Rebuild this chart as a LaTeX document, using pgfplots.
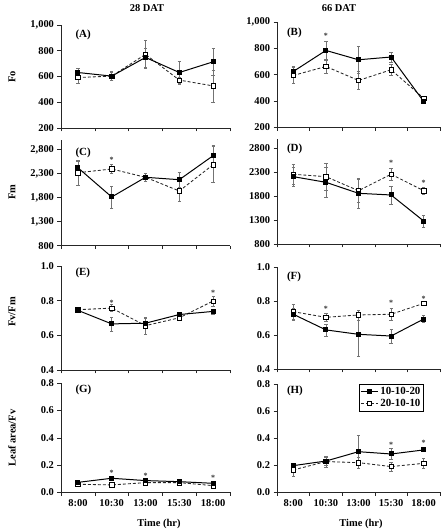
\documentclass[border=0pt]{standalone}
\usepackage{pgfplots}
\pgfplotsset{compat=1.18}
\usepackage{fontspec}
\setmainfont{Liberation Serif}

\tikzset{plab/.style={anchor=west, font=\fontsize{11}{12}\selectfont\bfseries}}
\pgfplotsset{
  panel/.style={
    scale only axis,
    axis x line*=bottom, axis y line*=left,
    axis line style={-, black!85, line width=0.6pt},
    xmin=0.5, xmax=5.5,
    xtick={0.5,1.5,2.5,3.5,4.5,5.5},
    xticklabels={},
    x tick label as interval,
    tick align=outside,
    major tick length=3.5bp,
    tick style={black!85, line width=0.6pt},
    tick label style={font=\fontsize{10.5}{12}\selectfont\bfseries},
    /pgf/number format/assume math mode=true,
    clip=false,
  },
  leftcol/.style={panel, width=169bp},
  rightcol/.style={panel, width=163bp},
  sA/.style={black, line width=1pt, mark=square*, mark size=2bp,
    mark options={solid, fill=black, draw=black},
    error bars/.cd, y dir=both, y explicit,
    error bar style={black!55, line width=0.45pt, solid},
    error mark options={black!55, line width=0.45pt, mark size=1.6bp, rotate=90}},
  sB/.style={black!85, line width=0.85pt, dash pattern=on 3bp off 2bp, mark=square*, mark size=2.2bp,
    mark options={solid, fill=white, draw=black, line width=0.6pt},
    error bars/.cd, y dir=both, y explicit,
    error bar style={black!55, line width=0.45pt, solid},
    error mark options={black!55, line width=0.45pt, mark size=1.6bp, rotate=90}},
  star/.style={draw=none, mark=none, nodes near coords={*},
    every node near coord/.append style={anchor=center, inner sep=0pt, font=\fontsize{8}{8}\selectfont\bfseries, black!80}},
}

\begin{document}
\begin{tikzpicture}
\path[use as bounding box] (0,0) rectangle (442bp,529bp);

% titles
\node[font=\fontsize{10.5}{12}\selectfont\bfseries] at (147bp,521bp) {28 DAT};
\node[font=\fontsize{10.5}{12}\selectfont\bfseries] at (339bp,521bp) {66 DAT};
\node[font=\fontsize{10.5}{12}\selectfont\bfseries] at (159bp,5.5bp) {Time (hr)};
\node[font=\fontsize{10.5}{12}\selectfont\bfseries] at (361bp,5.5bp) {Time (hr)};
% y labels
\node[rotate=90, font=\fontsize{10.5}{12}\selectfont\bfseries] at (12bp,452bp) {Fo};
\node[rotate=90, font=\fontsize{10.5}{12}\selectfont\bfseries] at (12bp,337bp) {Fm};
\node[rotate=90, font=\fontsize{10.5}{12}\selectfont\bfseries] at (12bp,217bp) {Fv/Fm};
\node[rotate=90, font=\fontsize{10.5}{12}\selectfont\bfseries] at (12bp,91bp) {Leaf area/Fv};

% (A)
\begin{axis}[leftcol, at={(61bp,401bp)}, anchor=south west, height=103bp,
  ymin=200, ymax=1000, ytick={200,400,600,800,1000},
  /pgf/number format/1000 sep={,}]
\addplot+[sB] coordinates {(1,592)+-(0,46) (2,603)+-(0,35) (3,772)+-(0,106) (4,572)+-(0,25) (5,527)+-(0,125)};
\addplot+[sA] coordinates {(1,631)+-(0,30) (2,603)+-(0,30) (3,748)+-(0,75) (4,631)+-(0,90) (5,714)+-(0,105)};
\node[plab] at (rel axis cs:0.065,0.9) {(A)};
\end{axis}

% (B)
\begin{axis}[rightcol, at={(277bp,401.7bp)}, anchor=south west, height=105.3bp,
  ymin=200, ymax=1000, ytick={200,400,600,800,1000},
  /pgf/number format/1000 sep={,}]
\addplot+[sB] coordinates {(1,594)+-(0,60) (2,662)+-(0,50) (3,556)+-(0,70) (4,637)+-(0,40) (5,421)+-(0,15)};
\addplot+[sA] coordinates {(1,624)+-(0,40) (2,784)+-(0,70) (3,713)+-(0,100) (4,734)+-(0,40) (5,396)+-(0,15)};
\addplot[star] coordinates {(2,894)};
\node[plab] at (rel axis cs:0.04,0.9) {(B)};
\end{axis}

% (C)
\begin{axis}[leftcol, at={(61bp,283.3bp)}, anchor=south west, height=105.6bp,
  ymin=800, ymax=3000, ytick={800,1300,1800,2300,2800},
  /pgf/number format/1000 sep={,}]
\addplot+[sB] coordinates {(1,2320)+-(0,260) (2,2398)+-(0,90) (3,2225)+-(0,90) (4,1940)+-(0,215) (5,2487)+-(0,375)};
\addplot+[sA] coordinates {(1,2425)+-(0,130) (2,1815)+-(0,230) (3,2225)+-(0,90) (4,2175)+-(0,160) (5,2675)+-(0,210)};
\addplot[star] coordinates {(2,2590)};
\node[plab] at (rel axis cs:0.065,0.88) {(C)};
\end{axis}

% (D)
\begin{axis}[rightcol, at={(277bp,285bp)}, anchor=south west, height=105.3bp,
  ymin=800, ymax=3000, ytick={800,1300,1800,2300,2800},
  /pgf/number format/1000 sep={}]
\addplot+[sB] coordinates {(1,2257)+-(0,200) (2,2207)+-(0,280) (3,1914)+-(0,245) (4,2257)+-(0,125) (5,1914)+-(0,70)};
\addplot+[sA] coordinates {(1,2207)+-(0,200) (2,2089)+-(0,310) (3,1859)+-(0,310) (4,1824)+-(0,190) (5,1280)+-(0,120)};
\addplot[star] coordinates {(4,2493) (5,2082)};
\node[plab] at (rel axis cs:0.04,0.9) {(D)};
\end{axis}

% (E)
\begin{axis}[leftcol, at={(61bp,159bp)}, anchor=south west, height=104bp,
  ymin=0.4, ymax=1.0, ytick={0.4,0.6,0.8,1.0},
  yticklabel style={/pgf/number format/.cd, fixed, fixed zerofill, precision=1}]
\addplot+[sB] coordinates {(1,0.748)+-(0,0.01) (2,0.757)+-(0,0.02) (3,0.656)+-(0,0.05) (4,0.701)+-(0,0.015) (5,0.798)+-(0,0.03)};
\addplot+[sA] coordinates {(1,0.744)+-(0,0.01) (2,0.666)+-(0,0.04) (3,0.670)+-(0,0.03) (4,0.720)+-(0,0.01) (5,0.738)+-(0,0.015)};
\addplot[star] coordinates {(2,0.79) (5,0.845)};
\node[plab] at (rel axis cs:0.065,0.93) {(E)};
\end{axis}

% (F)
\begin{axis}[rightcol, at={(277bp,160bp)}, anchor=south west, height=102bp,
  ymin=0.4, ymax=1.0, ytick={0.4,0.6,0.8,1.0},
  yticklabel style={/pgf/number format/.cd, fixed, fixed zerofill, precision=1}]
\addplot+[sB] coordinates {(1,0.737)+-(0,0.045) (2,0.704)+-(0,0.025) (3,0.718)+-(0,0.03) (4,0.722)+-(0,0.035) (5,0.786)+-(0,0.01)};
\addplot+[sA] coordinates {(1,0.722)+-(0,0.035) (2,0.630)+-(0,0.035) (3,0.604)+-(0,0.13) (4,0.594)+-(0,0.04) (5,0.694)+-(0,0.02)};
\addplot[star] coordinates {(2,0.753) (4,0.79) (5,0.812)};
\node[plab] at (rel axis cs:0.04,0.9) {(F)};
\end{axis}

% (G)
\begin{axis}[leftcol, at={(61bp,36.7bp)}, anchor=south west, height=109bp,
  ymin=0, ymax=0.8, ytick={0,0.2,0.4,0.6,0.8},
  yticklabel style={/pgf/number format/.cd, fixed, fixed zerofill, precision=1},
  xticklabels={8:00,10:30,13:00,15:30,18:00}]
\addplot+[sB] coordinates {(1,0.059)+-(0,0.005) (2,0.054)+-(0,0.005) (3,0.071)+-(0,0.005) (4,0.071)+-(0,0.005) (5,0.049)+-(0,0.005)};
\addplot+[sA] coordinates {(1,0.073)+-(0,0.005) (2,0.103)+-(0,0.01) (3,0.086)+-(0,0.005) (4,0.078)+-(0,0.005) (5,0.066)+-(0,0.005)};
\addplot[star] coordinates {(2,0.144) (3,0.12) (5,0.103)};
\node[plab] at (rel axis cs:0.065,0.94) {(G)};
\end{axis}

% (H)
\begin{axis}[rightcol, at={(277bp,36.7bp)}, anchor=south west, height=108.3bp,
  ymin=0, ymax=0.8, ytick={0,0.2,0.4,0.6,0.8},
  yticklabel style={/pgf/number format/.cd, fixed, fixed zerofill, precision=1},
  xticklabels={8:00,10:30,13:00,15:30,18:00},
  legend style={at={(0.90,1.0)}, anchor=north east, draw=black, line width=0.5pt,
    font=\fontsize{11}{12}\selectfont\bfseries, inner sep=1pt, row sep=-1pt,
    cells={anchor=west}},
  reverse legend]
\addplot+[sB] coordinates {(1,0.165)+-(0,0.045) (2,0.227)+-(0,0.04) (3,0.219)+-(0,0.04) (4,0.19)+-(0,0.035) (5,0.214)+-(0,0.035)};
\addlegendentry{20-10-10}
\addplot+[sA] coordinates {(1,0.197)+-(0,0.015) (2,0.231)+-(0,0.03) (3,0.300)+-(0,0.12) (4,0.283)+-(0,0.04) (5,0.313)+-(0,0.01)};
\addlegendentry{10-10-20}
\addplot[star, forget plot] coordinates {(4,0.35) (5,0.367)};
\node[plab] at (rel axis cs:0.04,0.94) {(H)};
\end{axis}
\end{tikzpicture}
\end{document}
